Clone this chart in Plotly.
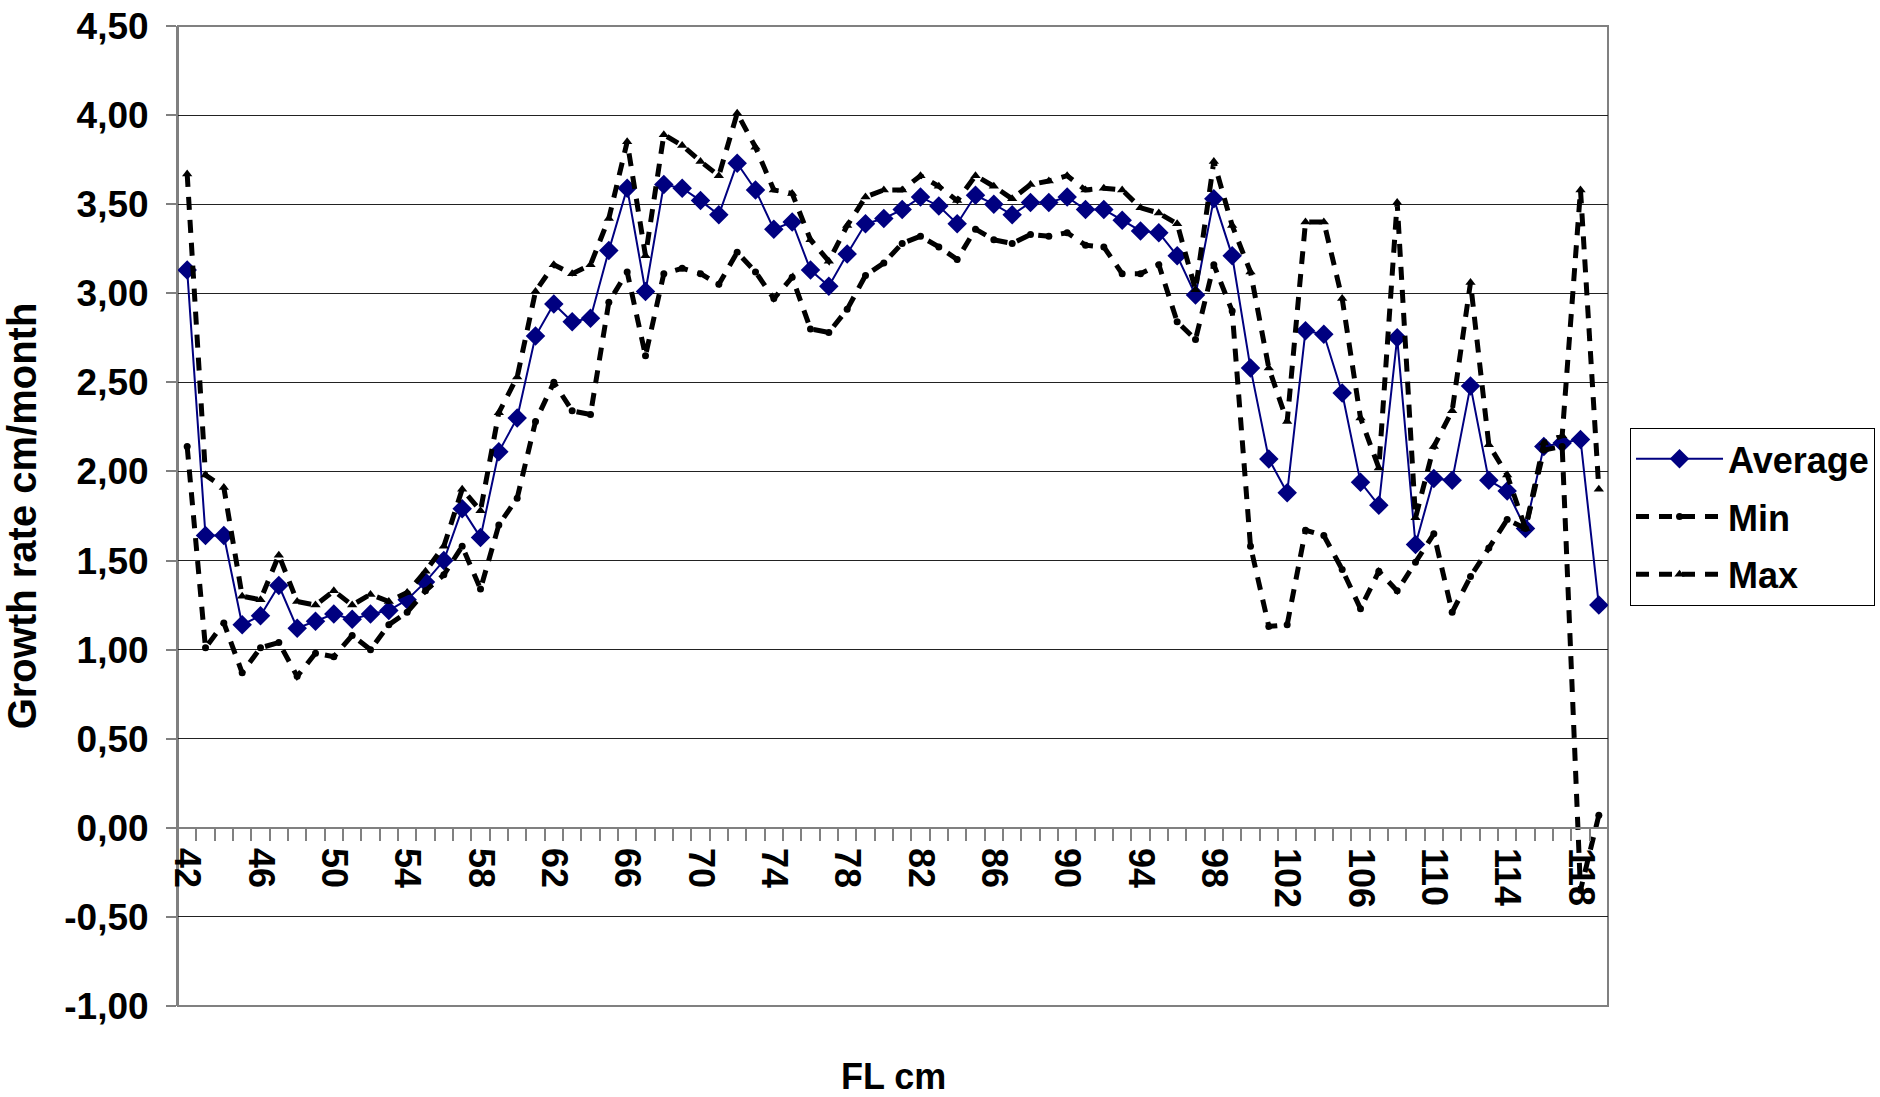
import plotly.graph_objects as go

fl_cm = [42, 43, 44, 45, 46, 47, 48, 49, 50, 51, 52, 53, 54, 55, 56, 57, 58, 59, 60, 61,
         62, 63, 64, 65, 66, 67, 68, 69, 70, 71, 72, 73, 74, 75, 76, 77, 78, 79, 80, 81,
         82, 83, 84, 85, 86, 87, 88, 89, 90, 91, 92, 93, 94, 95, 96, 97, 98, 99, 100, 101,
         102, 103, 104, 105, 106, 107, 108, 109, 110, 111, 112, 113, 114, 115, 116, 117, 118, 119]

average = [3.13, 1.64, 1.64, 1.14, 1.19, 1.36, 1.12, 1.16, 1.20, 1.17, 1.20, 1.22, 1.28, 1.38, 1.50, 1.79, 1.63, 2.11, 2.30, 2.76,
           2.94, 2.84, 2.86, 3.24, 3.59, 3.01, 3.61, 3.59, 3.52, 3.44, 3.73, 3.58, 3.36, 3.40, 3.13, 3.04, 3.22, 3.39, 3.42, 3.47,
           3.54, 3.49, 3.39, 3.55, 3.50, 3.44, 3.51, 3.51, 3.54, 3.47, 3.47, 3.41, 3.35, 3.34, 3.21, 2.99, 3.53, 3.21, 2.58, 2.07,
           1.88, 2.79, 2.77, 2.44, 1.94, 1.81, 2.75, 1.59, 1.96, 1.95, 2.48, 1.95, 1.89, 1.68, 2.14, 2.16, 2.18, 1.25]

minimum = [2.14, 1.01, 1.15, 0.87, 1.01, 1.04, 0.85, 0.98, 0.96, 1.08, 1.00, 1.14, 1.21, 1.33, 1.42, 1.58, 1.34, 1.70, 1.85, 2.28,
           2.50, 2.34, 2.32, 2.95, 3.12, 2.65, 3.11, 3.14, 3.11, 3.05, 3.23, 3.12, 2.97, 3.09, 2.80, 2.78, 2.91, 3.10, 3.17, 3.28,
           3.32, 3.26, 3.19, 3.36, 3.30, 3.28, 3.33, 3.32, 3.34, 3.27, 3.26, 3.11, 3.11, 3.16, 2.84, 2.74, 3.16, 2.90, 1.58, 1.13,
           1.14, 1.67, 1.64, 1.45, 1.23, 1.44, 1.33, 1.49, 1.65, 1.21, 1.41, 1.57, 1.73, 1.68, 2.12, 2.14, -0.35, 0.07]

maximum = [3.67, 1.98, 1.91, 1.30, 1.28, 1.53, 1.27, 1.25, 1.33, 1.25, 1.31, 1.27, 1.32, 1.44, 1.58, 1.90, 1.78, 2.33, 2.53, 3.01,
           3.16, 3.11, 3.16, 3.42, 3.85, 3.21, 3.89, 3.83, 3.74, 3.66, 4.01, 3.82, 3.58, 3.56, 3.30, 3.18, 3.38, 3.54, 3.58, 3.58,
           3.66, 3.60, 3.52, 3.66, 3.60, 3.53, 3.61, 3.63, 3.66, 3.58, 3.59, 3.58, 3.48, 3.45, 3.39, 3.02, 3.74, 3.38, 3.12, 2.58,
           2.28, 3.40, 3.40, 2.97, 2.30, 2.02, 3.51, 1.74, 2.14, 2.34, 3.06, 2.15, 1.98, 1.68, 2.16, 2.20, 3.58, 1.90]

x_tick_labels = [42, 46, 50, 54, 58, 62, 66, 70, 74, 78, 82, 86, 90, 94, 98, 102, 106, 110, 114, 118]
y_tick_values = [-1.0, -0.5, 0.0, 0.5, 1.0, 1.5, 2.0, 2.5, 3.0, 3.5, 4.0, 4.5]
y_tick_text = ["-1,00", "-0,50", "0,00", "0,50", "1,00", "1,50", "2,00", "2,50", "3,00", "3,50", "4,00", "4,50"]

FONT = "Liberation Sans, Arial, sans-serif"
Y_MIN, Y_MAX = -1.0, 4.5

fig = go.Figure()
fig.add_trace(go.Scatter(
    x=fl_cm, y=average, name="Average", mode="lines+markers", legendgroup="a",
    line=dict(color="#000080", width=2),
    marker=dict(symbol="diamond", size=15, color="#000080"),
))
fig.add_trace(go.Scatter(
    x=fl_cm, y=minimum, name="Min", mode="lines+markers", legendgroup="b",
    line=dict(color="black", width=5, dash="13px,10px"),
    marker=dict(symbol="circle", size=7, color="black"),
))
fig.add_trace(go.Scatter(
    x=fl_cm, y=maximum, name="Max", mode="lines+markers", legendgroup="c",
    line=dict(color="black", width=5, dash="13px,10px"),
    marker=dict(symbol="triangle-up", size=9, color="black"),
))

fig.update_layout(
    width=1880, height=1097,
    margin=dict(l=178, r=272, t=26, b=91, autoexpand=False),
    paper_bgcolor="white", plot_bgcolor="white",
    font=dict(family=FONT, size=36, color="black", weight=700),
    showlegend=True,
    legend=dict(
        x=1.0154, y=0.59, xanchor="left", yanchor="top",
        bgcolor="white", bordercolor="black", borderwidth=1,
        font=dict(family=FONT, size=36, color="black", weight=700),
        itemwidth=87, tracegroupgap=8,
    ),
    annotations=[dict(
        text="FL cm", x=0.5, y=-0.072, xref="paper", yref="paper",
        xanchor="center", yanchor="middle", showarrow=False,
        font=dict(family=FONT, size=36, color="black", weight=700),
    )],
    shapes=[dict(type="rect", xref="paper", yref="paper", x0=0, x1=1, y0=0, y1=1,
                 line=dict(color="#808080", width=2), layer="below")],
)

fig.update_xaxes(
    range=[41.5, 119.5], automargin=False,
    anchor="free", position=(0 - Y_MIN) / (Y_MAX - Y_MIN),
    tickmode="array", tickvals=x_tick_labels, ticktext=[str(v) for v in x_tick_labels],
    tickangle=90,
    ticks="outside", ticklen=12, tickcolor="rgba(0,0,0,0)",
    minor=dict(ticks="outside", tick0=41.5, dtick=1, ticklen=12, tickcolor="#808080", tickwidth=1.5, showgrid=False),
    showline=True, linecolor="#808080", linewidth=2,
    showgrid=False, zeroline=False,
    tickfont=dict(family=FONT, size=36, color="black", weight=700),
)
fig.update_yaxes(
    range=[Y_MIN, Y_MAX], automargin=False,
    tickmode="array", tickvals=y_tick_values, ticktext=y_tick_text,
    ticks="outside", ticklen=10, tickcolor="#808080", tickwidth=1.5,
    ticklabelstandoff=10,
    showline=True, linecolor="#808080", linewidth=2,
    showgrid=True, gridcolor="#222222", gridwidth=1.2,
    zeroline=False,
    tickfont=dict(family=FONT, size=37, color="black", weight=700),
    title=dict(text="Growth rate cm/month", standoff=16,
               font=dict(family=FONT, size=40, color="black", weight=700)),
)

fig.write_html("out.html", config={"displayModeBar": False},
               post_script="document.body.style.margin='0';")
